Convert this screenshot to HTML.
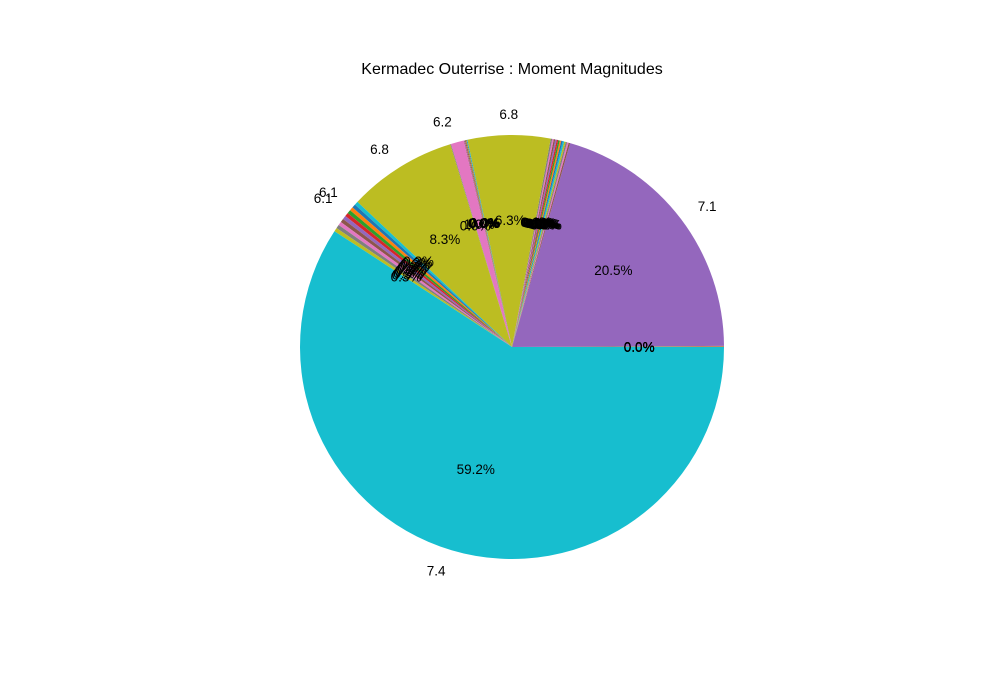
<!DOCTYPE html>
<html><head><meta charset="utf-8"><style>
body{margin:0;background:#fff}
svg{display:block;font-family:"Liberation Sans","DejaVu Sans",sans-serif}
</style></head><body>
<svg id="chart" width="1000" height="688" viewBox="0 0 1000 688">
<rect width="1000" height="688" fill="#fff"/>
<text x="512" y="74" text-anchor="middle" font-size="16" fill="#000">Kermadec Outerrise : Moment Magnitudes</text>
<g id="wedges"></g>
<g id="labels"></g>
</svg>
<script>
const values = [0.02,0.02,0.02,0.02,20.5,
 0.115,0.115,0.115,0.115,0.115,0.115,0.115,0.115,0.115,0.115,0.115,0.115,0.115,
 6.3,
 0.04,0.04,0.04,0.04,0.04,0.04,0.04,
 1.0,0.05,8.3,
 0.28,0.28,0.28,0.28,0.28,0.28,0.28,0.28,0.28,0.28,
 59.2];
const magLabels = ["","","","","7.1",
 "","","","","","","","","","","","","",
 "6.8",
 "","","","","","","",
 "6.2","","6.8",
 "","6.1","","6.1","","","","","","",
 "7.4"];
const colors = ["#1f77b4","#ff7f0e","#2ca02c","#d62728","#9467bd","#8c564b","#e377c2","#7f7f7f","#bcbd22","#17becf"];
const cx=512, cy=347, r=212;
const NS="http://www.w3.org/2000/svg";
const wg=document.getElementById('wedges'), lg=document.getElementById('labels');
const total=values.reduce((a,b)=>a+b,0);
function pt(a,rr){return [cx+rr*Math.cos(a), cy-rr*Math.sin(a)];}
let start=0;
values.forEach((v,i)=>{
  const span=v/total*2*Math.PI, end=start+span;
  const p1=pt(start,r), p2=pt(end,r);
  const path=document.createElementNS(NS,'path');
  path.setAttribute('d',`M${cx},${cy} L${p1[0]},${p1[1]} A${r},${r} 0 ${span>Math.PI?1:0} 0 ${p2[0]},${p2[1]} Z`);
  path.setAttribute('fill',colors[i%10]);
  
  
  wg.appendChild(path);
  const mid=(start+end)/2;
  const pp=pt(mid,r*0.6);
  const t=document.createElementNS(NS,'text');
  t.setAttribute('x',pp[0]);t.setAttribute('y',pp[1]+5);
  t.setAttribute('text-anchor','middle');t.setAttribute('font-size','13.5');
  t.textContent=(v/total*100).toFixed(1)+'%';
  
  
  lg.appendChild(t);
  if(magLabels[i]){
    const lp=pt(mid,r*1.1);
    const m=document.createElementNS(NS,'text');
    m.setAttribute('x',lp[0]);m.setAttribute('y',lp[1]+5);
    m.setAttribute('text-anchor',Math.cos(mid)>0.05?'start':(Math.cos(mid)<-0.05?'end':'middle'));
    m.setAttribute('font-size','13.5');
    m.textContent=magLabels[i];
    
    
    lg.appendChild(m);
  }
  start=end;
});
</script>
</body></html>
